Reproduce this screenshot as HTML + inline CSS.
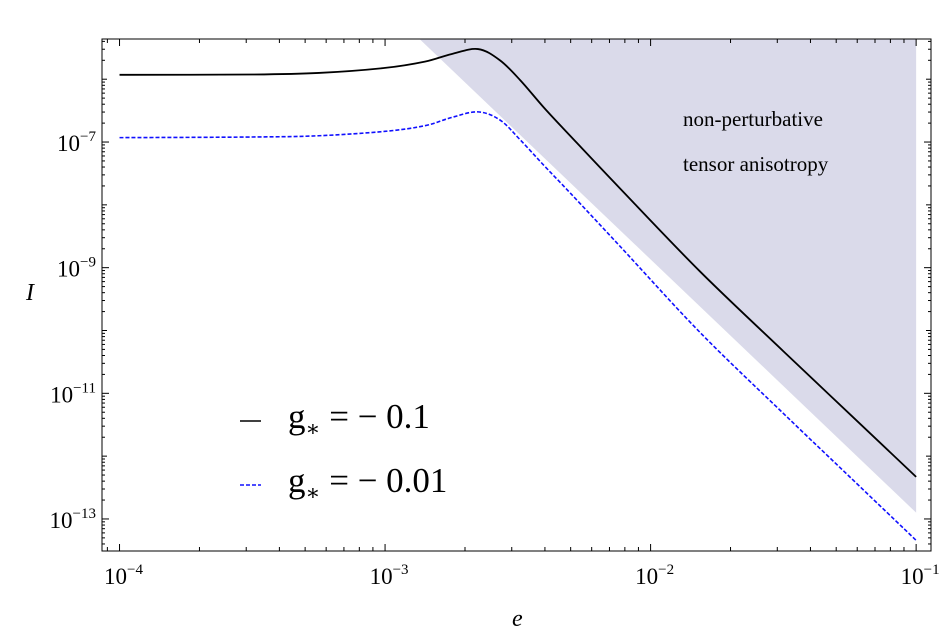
<!DOCTYPE html>
<html><head><meta charset="utf-8"><style>
html,body{margin:0;padding:0;background:#fff;}
svg{display:block;}
text{font-family:"Liberation Serif","Times New Roman",Tinos,Times,"DejaVu Serif",serif;}
</style></head><body>
<svg id="chart" width="939" height="633" viewBox="0 0 939 633" xmlns="http://www.w3.org/2000/svg">
<g id="shade"></g>
<g id="series"></g>
<g id="axes"></g>
<text x="683" y="126" font-size="21">non-perturbative</text>
<text x="683" y="171" font-size="21">tensor anisotropy</text>
<text x="26" y="300" font-size="24" font-style="italic">I</text>
<text x="512" y="626" font-size="24" font-style="italic">e</text>
<g>
<line x1="240" y1="421" x2="261" y2="421" stroke="#000" stroke-width="1.6"/>
<text x="288" y="428" font-size="35">g<tspan font-size="22" dy="8">∗</tspan><tspan dy="-8"> = − 0.1</tspan></text>
<line x1="240" y1="485" x2="261" y2="485" stroke="#1010ff" stroke-width="1.6" stroke-dasharray="4,2"/>
<text x="288" y="492" font-size="35">g<tspan font-size="22" dy="8">∗</tspan><tspan dy="-8"> = − 0.01</tspan></text>
</g>
</svg>
<script>
const logE_black=[-4,-3.5,-3.25,-3.0,-2.85,-2.75,-2.65,-2.567,-2.49,-2.4,-2.303,-2.115,-1.814,-1.5,-1.25,-1];
const logI_black=[-5.93,-5.925,-5.9,-5.82,-5.72,-5.6,-5.52,-5.7,-6.02,-6.46,-6.9,-7.74,-9.06,-10.33,-11.33,-12.33];
const logE_blue=[-4,-3.5,-3.25,-3.0,-2.85,-2.75,-2.65,-2.567,-2.49,-2.4,-2.303,-2.115,-1.814,-1.5,-1.25,-1];
const logI_blue=[-6.93,-6.92,-6.9,-6.83,-6.74,-6.61,-6.52,-6.65,-6.97,-7.38,-7.81,-8.66,-10.03,-11.32,-12.33,-13.34];
const shadeLogE=[-2.9,-1];
const shadeLogI=[-5.24,-12.9];
const xTickExp=[-4,-3,-2,-1];
const yTickExp=[-7,-9,-11,-13];

const L=102,R=931,T=39,B=551;
const xmin=-4.066,xmax=-0.944,ymin=-13.51,ymax=-5.36;
const sx=v=>L+(v-xmin)/(xmax-xmin)*(R-L);
const sy=v=>B-(v-ymin)/(ymax-ymin)*(B-T);
const NS="http://www.w3.org/2000/svg";
function mk(tag,attrs,parent){const e=document.createElementNS(NS,tag);for(const k in attrs)e.setAttribute(k,attrs[k]);parent.appendChild(e);return e;}

const defs=mk('defs',{},document.getElementById('chart'));
const cp=mk('clipPath',{id:'clip'},defs);
mk('rect',{x:L,y:T,width:R-L,height:B-T},cp);

const sg=document.getElementById('shade');
sg.setAttribute('clip-path','url(#clip)');
let d='M'+sx(shadeLogE[0])+','+(T-50);
for(let i=0;i<shadeLogE.length;i++)d+=' L'+sx(shadeLogE[i])+','+sy(shadeLogI[i]);
d+=' L'+sx(shadeLogE[shadeLogE.length-1])+','+(T-50)+' Z';
const sp=mk('path',{d:d,fill:'#dadaea'},sg);



function smooth(xs,ys){const p=xs.map((x,i)=>[sx(x),sy(ys[i])]);let s='M'+p[0][0]+','+p[0][1];
for(let i=0;i<p.length-1;i++){const p0=p[Math.max(0,i-1)],p1=p[i],p2=p[i+1],p3=p[Math.min(p.length-1,i+2)];
s+=' C'+(p1[0]+(p2[0]-p0[0])/6)+','+(p1[1]+(p2[1]-p0[1])/6)+' '+(p2[0]-(p3[0]-p1[0])/6)+','+(p2[1]-(p3[1]-p1[1])/6)+' '+p2[0]+','+p2[1];}return s;}
const g=document.getElementById('series');
const lb=mk('path',{d:smooth(logE_black,logI_black),fill:'none',stroke:'#000','stroke-width':1.8},g);


const lbl=mk('path',{d:smooth(logE_blue,logI_blue),fill:'none',stroke:'#1010ff','stroke-width':1.6,'stroke-dasharray':'4,2'},g);



const a=document.getElementById('axes');
mk('rect',{x:L,y:T,width:R-L,height:B-T,fill:'none',stroke:'#000','stroke-width':1},a);
for(let dd=-5;dd<=-1;dd++){for(let m=1;m<10;m++){const v=dd+Math.log10(m);if(v<xmin||v>xmax)continue;const x=sx(v);const len=m==1?7:4;
mk('line',{x1:x,y1:B,x2:x,y2:B-len,stroke:'#000'},a);mk('line',{x1:x,y1:T,x2:x,y2:T+len,stroke:'#000'},a);}}
for(let dd=-14;dd<=-5;dd++){for(let m=1;m<10;m++){const v=dd+Math.log10(m);if(v<ymin||v>ymax)continue;const y=sy(v);const len=(m==1&&dd%2!=0)?7:(m==1?5:3);
mk('line',{x1:L,y1:y,x2:L+len,y2:y,stroke:'#000'},a);mk('line',{x1:R,y1:y,x2:R-len,y2:y,stroke:'#000'},a);}}
xTickExp.forEach(e=>{const t=mk('text',{x:sx(e)+4,y:584,'font-size':23,'text-anchor':'middle'},a);


t.innerHTML='10<tspan font-size="15" dy="-10">'+(e<0?'−':'')+Math.abs(e)+'</tspan>';});
yTickExp.forEach(e=>{const t=mk('text',{x:L-6,y:sy(e)+9,'font-size':23,'text-anchor':'end'},a);


t.innerHTML='10<tspan font-size="15" dy="-10">'+(e<0?'−':'')+Math.abs(e)+'</tspan>';});
</script>
</body></html>
